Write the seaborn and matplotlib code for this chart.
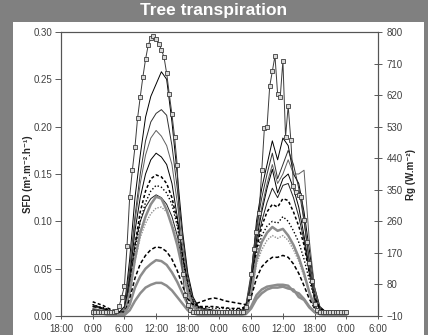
import numpy as np
import pandas as pd
import seaborn as sns
import matplotlib
matplotlib.use("Agg")
import matplotlib.pyplot as plt
from matplotlib.patches import Rectangle

# hourly time base for sap flux lines: hours after 18:00 of day 0
hours = np.arange(6, 55)
# half-hourly time base for global radiation
rg_hours = np.arange(6, 54.5, 0.5)

xtick_labels = ["18:00", "0:00", "6:00", "12:00", "18:00", "0:00",
                "6:00", "12:00", "18:00", "0:00", "6:00"]

rg = [0, 0, 0, 0, 0, 0, 0, 0, 0,
      3, 18, 45, 75, 190, 330, 405, 472, 555, 615, 672, 722, 762, 782, 789,
      781, 766, 750, 728, 682, 622, 565, 500, 420, 215, 110, 50, 22, 8, 2,
      0, 0, 0, 0, 0, 0, 0, 0, 0, 0, 0, 0, 0, 0, 0, 0, 0, 0, 0,
      15, 45, 110, 180, 230, 285, 405, 527, 530, 645, 688, 732, 623, 615,
      718, 501, 589, 492, 362, 345, 335, 328, 265, 200, 140, 90, 25, 6,
      0, 0, 0, 0, 0, 0, 0, 0, 0, 0, 0]

sfd_1 = [0.012, 0.010, 0.008, 0.006, 0.005, 0.004,
         0.010, 0.060, 0.125, 0.170, 0.210, 0.232, 0.245, 0.258, 0.250, 0.205, 0.150, 0.090, 0.045, 0.020, 0.010,
         0.008, 0.007, 0.006, 0.006, 0.005, 0.005, 0.005, 0.005,
         0.010, 0.040, 0.100, 0.135, 0.160, 0.185, 0.165, 0.188, 0.180, 0.150, 0.140, 0.110, 0.070, 0.030, 0.010, 0.005,
         0.004, 0.004, 0.003, 0.003]
sfd_2 = [0.010, 0.009, 0.007, 0.006, 0.005, 0.004,
         0.008, 0.050, 0.105, 0.150, 0.185, 0.205, 0.214, 0.218, 0.212, 0.180, 0.135, 0.085, 0.040, 0.018, 0.009,
         0.007, 0.006, 0.006, 0.005, 0.005, 0.004, 0.004, 0.005,
         0.012, 0.045, 0.095, 0.125, 0.150, 0.172, 0.145, 0.160, 0.175, 0.160, 0.135, 0.100, 0.060, 0.025, 0.008, 0.004,
         0.003, 0.003, 0.003, 0.003]
sfd_3 = [0.008, 0.007, 0.006, 0.005, 0.004, 0.004,
         0.006, 0.045, 0.100, 0.140, 0.170, 0.188, 0.196, 0.190, 0.180, 0.160, 0.120, 0.075, 0.035, 0.015, 0.008,
         0.006, 0.005, 0.005, 0.004, 0.004, 0.004, 0.004, 0.004,
         0.010, 0.040, 0.085, 0.115, 0.140, 0.160, 0.140, 0.150, 0.165, 0.150, 0.150, 0.154, 0.080, 0.030, 0.008, 0.004,
         0.003, 0.003, 0.002, 0.002]
sfd_4 = [0.006, 0.006, 0.005, 0.004, 0.004, 0.003,
         0.005, 0.040, 0.090, 0.125, 0.150, 0.165, 0.172, 0.168, 0.160, 0.140, 0.105, 0.065, 0.030, 0.012, 0.006,
         0.005, 0.005, 0.004, 0.004, 0.004, 0.003, 0.003, 0.004,
         0.008, 0.035, 0.080, 0.110, 0.135, 0.155, 0.130, 0.145, 0.150, 0.135, 0.115, 0.085, 0.050, 0.020, 0.006, 0.003,
         0.003, 0.002, 0.002, 0.002]
sfd_5 = [0.007, 0.006, 0.005, 0.005, 0.004, 0.004,
         0.005, 0.035, 0.075, 0.100, 0.115, 0.124, 0.128, 0.125, 0.118, 0.105, 0.085, 0.055, 0.028, 0.012, 0.006,
         0.005, 0.005, 0.005, 0.004, 0.004, 0.004, 0.004, 0.004,
         0.008, 0.030, 0.075, 0.100, 0.120, 0.135, 0.125, 0.138, 0.140, 0.125, 0.105, 0.080, 0.045, 0.018, 0.006, 0.003,
         0.003, 0.003, 0.002, 0.002]
sfd_6 = [0.015, 0.013, 0.011, 0.008, 0.006, 0.004,
         0.004, 0.030, 0.075, 0.110, 0.132, 0.145, 0.149, 0.147, 0.140, 0.125, 0.100, 0.065, 0.032, 0.015, 0.010,
         0.010, 0.010, 0.010, 0.009, 0.009, 0.008, 0.008, 0.008,
         0.010, 0.030, 0.070, 0.095, 0.110, 0.118, 0.115, 0.124, 0.122, 0.110, 0.095, 0.075, 0.045, 0.020, 0.008, 0.005,
         0.004, 0.004, 0.004, 0.004]
sfd_7 = [0.012, 0.010, 0.009, 0.007, 0.005, 0.004,
         0.004, 0.028, 0.068, 0.100, 0.120, 0.132, 0.138, 0.136, 0.130, 0.118, 0.095, 0.062, 0.030, 0.014, 0.009,
         0.009, 0.009, 0.008, 0.008, 0.008, 0.007, 0.007, 0.007,
         0.009, 0.028, 0.065, 0.085, 0.095, 0.100, 0.098, 0.105, 0.100, 0.090, 0.078, 0.060, 0.038, 0.018, 0.007, 0.004,
         0.004, 0.003, 0.003, 0.003]
sfd_8 = [0.004, 0.004, 0.003, 0.003, 0.002, 0.002,
         0.002, 0.025, 0.060, 0.088, 0.105, 0.118, 0.126, 0.124, 0.112, 0.095, 0.075, 0.050, 0.025, 0.010, 0.004,
         0.003, 0.003, 0.002, 0.002, 0.002, 0.002, 0.002, 0.002,
         0.005, 0.025, 0.060, 0.078, 0.088, 0.094, 0.090, 0.092, 0.085, 0.075, 0.062, 0.045, 0.025, 0.010, 0.004, 0.002,
         0.002, 0.002, 0.002, 0.002]
sfd_9 = [0.006, 0.005, 0.005, 0.004, 0.004, 0.003,
         0.003, 0.024, 0.058, 0.083, 0.098, 0.108, 0.114, 0.115, 0.110, 0.098, 0.080, 0.055, 0.028, 0.012, 0.006,
         0.005, 0.005, 0.004, 0.004, 0.004, 0.004, 0.004, 0.004,
         0.006, 0.022, 0.055, 0.070, 0.080, 0.085, 0.082, 0.085, 0.080, 0.070, 0.058, 0.042, 0.025, 0.010, 0.004, 0.003,
         0.003, 0.002, 0.002, 0.002]
sfd_10 = [0.010, 0.009, 0.008, 0.006, 0.004, 0.003,
          0.003, 0.018, 0.040, 0.055, 0.064, 0.070, 0.073, 0.072, 0.068, 0.060, 0.048, 0.032, 0.018, 0.012, 0.014,
          0.016, 0.018, 0.019, 0.018, 0.016, 0.015, 0.014, 0.013,
          0.012, 0.020, 0.040, 0.052, 0.058, 0.062, 0.062, 0.064, 0.062, 0.055, 0.045, 0.032, 0.018, 0.008, 0.004, 0.003,
          0.003, 0.003, 0.003, 0.003]
sfd_11 = [0.003, 0.003, 0.003, 0.002, 0.002, 0.002,
          0.002, 0.012, 0.030, 0.042, 0.050, 0.055, 0.059, 0.058, 0.054, 0.046, 0.036, 0.024, 0.012, 0.005, 0.002,
          0.002, 0.002, 0.002, 0.002, 0.002, 0.002, 0.002, 0.002,
          0.003, 0.010, 0.022, 0.028, 0.031, 0.032, 0.033, 0.033, 0.032, 0.026, 0.024, 0.018, 0.010, 0.004, 0.002, 0.002,
          0.002, 0.002, 0.002, 0.002]
sfd_12 = [0.002, 0.002, 0.002, 0.001, 0.001, 0.001,
          0.001, 0.006, 0.016, 0.024, 0.030, 0.033, 0.035, 0.035, 0.032, 0.027, 0.020, 0.013, 0.006, 0.003, 0.001,
          0.001, 0.001, 0.001, 0.001, 0.001, 0.001, 0.001, 0.001,
          0.002, 0.008, 0.018, 0.024, 0.028, 0.030, 0.030, 0.031, 0.029, 0.028, 0.020, 0.017, 0.009, 0.004, 0.002, 0.001,
          0.001, 0.001, 0.001, 0.001]

sns.set_style("white")
plt.rcParams['font.family'] = ['Liberation Sans', 'DejaVu Sans']

fig = plt.figure(figsize=(4.28, 3.35), dpi=100, facecolor='#808080')
# white panel behind the chart
fig.patches.append(Rectangle((13 / 428, 0), (424 - 13) / 428, (335 - 22) / 335,
                             transform=fig.transFigure, facecolor='white',
                             edgecolor='none', zorder=-10))
ax = fig.add_axes([61 / 428, 1 - 316 / 335, (378 - 61) / 428, (316 - 32) / 335])
ax.set_facecolor('white')

# (series, colour, width, dash pattern)
styles = [
    (sfd_1, 'black', 0.7, '-'),
    (sfd_2, '#303030', 0.7, '-'),
    (sfd_3, '#606060', 0.7, '-'),
    (sfd_4, 'black', 0.7, '-'),
    (sfd_5, '#202020', 0.7, '-'),
    (sfd_6, 'black', 1.1, (0, (2, 1.5))),
    (sfd_7, 'black', 1.0, (0, (1, 1.5))),
    (sfd_8, '#8c8c8c', 1.8, '-'),
    (sfd_9, '#909090', 1.0, (0, (1, 1))),
    (sfd_10, 'black', 1.1, (0, (2.5, 1.5))),
    (sfd_11, '#8c8c8c', 1.8, '-'),
    (sfd_12, '#8c8c8c', 1.8, '-'),
]
for vals, col, lw, ls in styles:
    sns.lineplot(x=hours, y=vals, ax=ax, color=col, linewidth=lw,
                 linestyle=ls, legend=False)

ax.set_xlim(0, 60)
ax.set_ylim(0, 0.30)
ax.set_xticks(np.arange(0, 61, 6))
ax.set_xticklabels(xtick_labels)
ax.set_yticks(np.arange(0, 0.31, 0.05))
ax.set_yticklabels([f"{v:.2f}" for v in np.arange(0, 0.31, 0.05)])
ax.set_xlabel("")
ax.set_ylabel("SFD (m³.m⁻².h⁻¹)", fontsize=7, fontweight='bold', labelpad=1)
ax.tick_params(axis='y', direction='out', length=4, width=0.6, labelsize=7,
               colors='#404040', labelcolor='#404040', left=True, pad=2)
ax.tick_params(axis='x', direction='inout', length=5, width=0.6, labelsize=7,
               colors='#404040', labelcolor='#404040', bottom=True, pad=3)
for s in ax.spines.values():
    s.set_color('#555555')
    s.set_linewidth(0.8)

ax2 = ax.twinx()
sns.lineplot(x=rg_hours, y=rg, ax=ax2, color='#3c3c3c', linewidth=0.7,
             marker='s', markersize=3, markerfacecolor='#d8d8d8',
             markeredgecolor='#3c3c3c', markeredgewidth=0.6, legend=False)
ax2.set_ylim(-10, 800)
ax2.set_yticks(np.arange(-10, 801, 90))
ax2.set_ylabel("Rg (W.m⁻²)", fontsize=7, fontweight='bold', labelpad=2)
ax2.tick_params(axis='y', direction='inout', length=6, width=0.6, labelsize=7,
                colors='#404040', labelcolor='#404040', right=True, pad=3)
for s in ax2.spines.values():
    s.set_color('#555555')
    s.set_linewidth(0.8)

fig.text(0.5, 1 - 11 / 335, "Tree transpiration", ha='center', va='center',
         color='white', fontsize=12.5, fontweight='bold')

fig.savefig("out.png", dpi=100, facecolor=fig.get_facecolor())
